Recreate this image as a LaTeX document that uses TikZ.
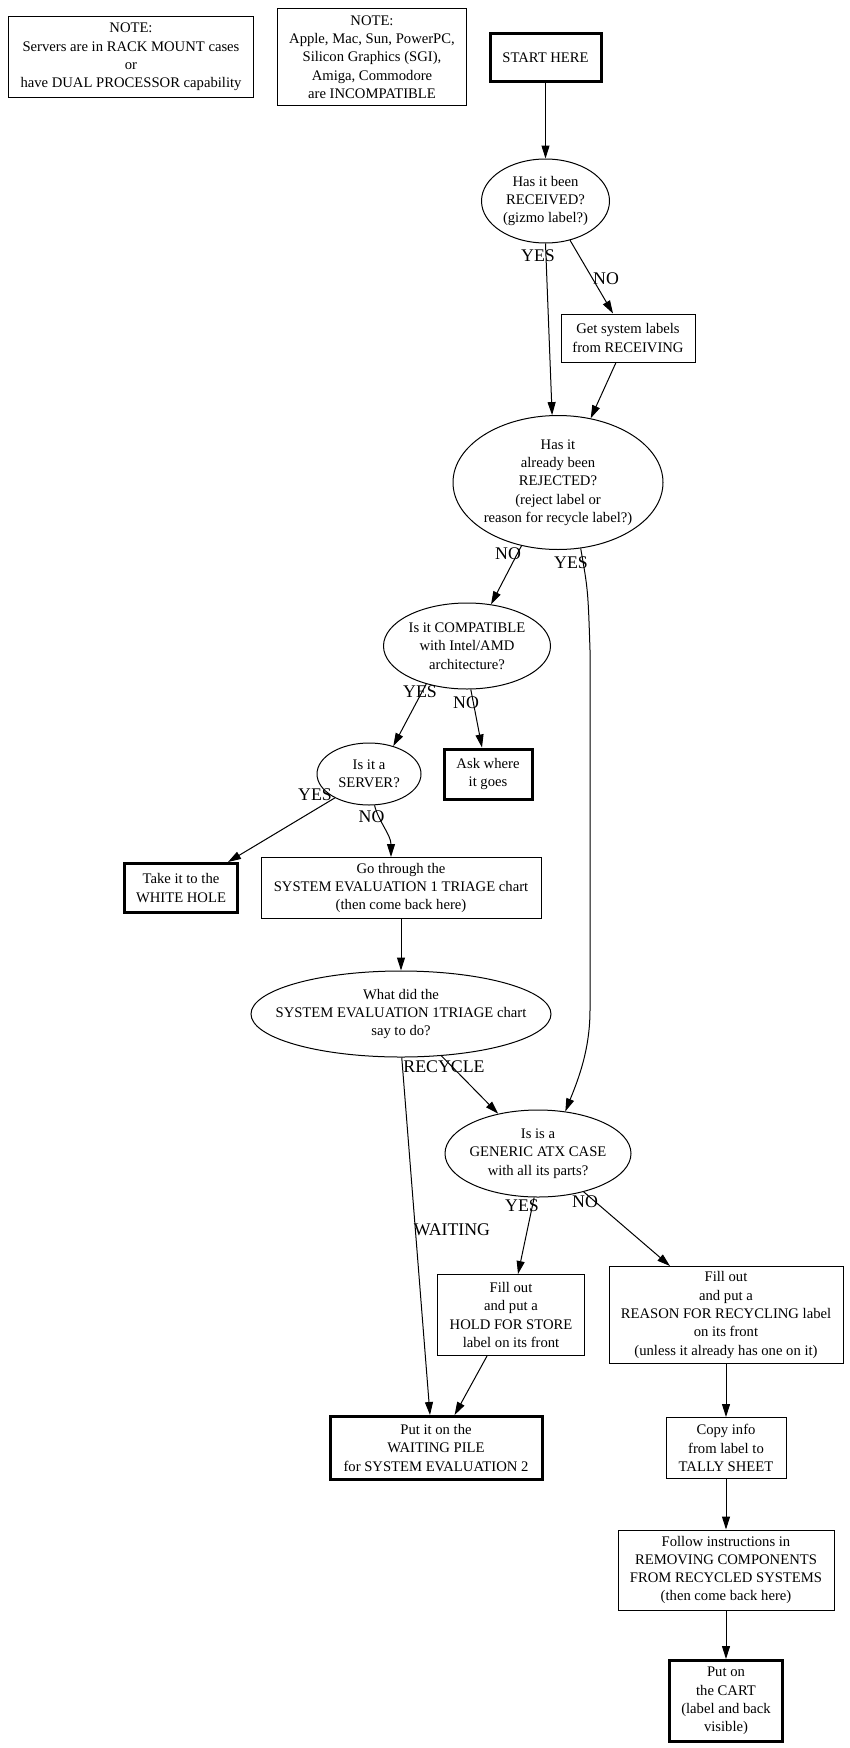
\documentclass[tikz,border=0pt]{standalone}
\usepackage{fontspec}
\setmainfont{Liberation Serif}
\usetikzlibrary{shapes.geometric,arrows.meta}
\newcommand{\myNodeFont}{\fontsize{14.65bp}{18.3bp}\selectfont}
\newcommand{\myLabelFont}{\fontsize{17.8bp}{20bp}\selectfont}
\begin{document}
\begin{tikzpicture}[x=1bp,y=-1bp,
  box/.style={draw,rectangle,line width=1bp,inner sep=0pt,align=center,font=\myNodeFont},
  boldbox/.style={box,line width=3bp},
  oval/.style={draw,ellipse,line width=1bp,inner sep=0pt},
  txt/.style={align=center,font=\myNodeFont,inner sep=0pt},
  elabel/.style={font=\myLabelFont,inner sep=0pt},
  conn/.style={line width=1bp,-{Triangle[length=13bp,width=8bp]}}]
\fill[white] (0,0) rectangle (850,1748);
\useasboundingbox (0,0) rectangle (850,1748);

% notes
\node[box,minimum width=245bp,minimum height=80bp] (note1) at (131,57)
  {NOTE:\\Servers are in RACK MOUNT cases\\or\\have DUAL PROCESSOR capability};
\node[box,minimum width=189bp,minimum height=96bp] (note2) at (372,57)
  {NOTE:\\Apple, Mac, Sun, PowerPC,\\Silicon Graphics (SGI),\\Amiga, Commodore\\are INCOMPATIBLE};

% main flow
\node[boldbox,minimum width=111bp,minimum height=48bp] (start) at (545.5,57.5) {START HERE};
\node[oval,minimum width=128bp,minimum height=84bp,
  label={[txt]center:{Has it been\\RECEIVED?\\(gizmo label?)}}] (received) at (545.5,201) {};
\node[box,minimum width=134bp,minimum height=48bp] (getlabels) at (628,338)
  {Get system labels\\from RECEIVING};
\node[oval,minimum width=210bp,minimum height=134bp,
  label={[txt]center:{Has it\\already been\\REJECTED?\\(reject label or\\reason for recycle label?)}}] (rejected) at (558,482.5) {};
\node[oval,minimum width=167bp,minimum height=86bp,
  label={[txt]center:{Is it COMPATIBLE\\with Intel/AMD\\architecture?}}] (compat) at (467,646) {};
\node[oval,minimum width=104bp,minimum height=62bp,
  label={[txt]center:{Is it a\\SERVER?}}] (server) at (369,774) {};
\node[boldbox,minimum width=88bp,minimum height=50bp] (ask) at (488,774) {Ask where\\it goes};
\node[boldbox,minimum width=113bp,minimum height=49bp] (whitehole) at (181,888) {Take it to the\\WHITE HOLE};
\node[box,minimum width=280bp,minimum height=61bp] (gothrough) at (401,888)
  {Go through the\\SYSTEM EVALUATION 1 TRIAGE chart\\(then come back here)};
\node[oval,minimum width=300bp,minimum height=86bp,
  label={[txt]center:{What did the\\SYSTEM EVALUATION 1TRIAGE chart\\say to do?}}] (what) at (401,1014) {};
\node[oval,minimum width=186bp,minimum height=87bp,
  label={[txt]center:{Is is a\\GENERIC ATX CASE\\with all its parts?}}] (generic) at (538,1153.5) {};
\node[box,minimum width=147bp,minimum height=81bp] (hold) at (511,1315)
  {Fill out\\and put a\\HOLD FOR STORE\\label on its front};
\node[box,minimum width=234bp,minimum height=97bp] (reason) at (726,1315)
  {Fill out\\and put a\\REASON FOR RECYCLING label\\on its front\\(unless it already has one on it)};
\node[boldbox,minimum width=212bp,minimum height=63bp] (pile) at (436,1448)
  {Put it on the\\WAITING PILE\\for SYSTEM EVALUATION 2};
\node[box,minimum width=120bp,minimum height=61bp] (copy) at (726,1448)
  {Copy info\\from label to\\TALLY SHEET};
\node[box,minimum width=216bp,minimum height=80bp] (follow) at (726,1570)
  {Follow instructions in\\REMOVING COMPONENTS\\FROM RECYCLED SYSTEMS\\(then come back here)};
\node[boldbox,minimum width=113bp,minimum height=81bp] (cart) at (726,1701)
  {Put on\\the CART\\(label and back\\visible)};

% connectors
\draw[conn] (start.south) -- (received.north);
\draw[conn] (received.south) -- (rejected.95);
\draw[conn] (received.-58) -- ([xshift=-15bp]getlabels.north);
\draw[conn] ([xshift=-12bp]getlabels.south) -- (rejected.63);
\draw[conn] (rejected.-120) -- (compat.60);
\draw[conn] (rejected.-71) .. controls (588,590) .. (590,650) -- (590,1010)
  .. controls (590,1050) and (578,1080) .. (generic.57);
\draw[conn] (compat.-137) -- (server.49);
\draw[conn] (compat.-85) -- ([xshift=-6bp]ask.north);
\draw[conn] (server.-145) -- ([xshift=47bp]whitehole.north);
\draw[conn] (server.-80) .. controls +(4,16) and +(0,-22) .. ([xshift=-10bp]gothrough.north);
\draw[conn] (gothrough.south) -- (what.north);
\draw[conn] (what.-46) -- (generic.135);
\draw[conn] (what.-89) -- ([xshift=-6bp]pile.north);
\draw[conn] (generic.-95) -- ([xshift=7bp]hold.north);
\draw[conn] (generic.-40) -- ([xshift=-56bp]reason.north);
\draw[conn] ([xshift=-24bp]hold.south) -- ([xshift=18.6bp]pile.north);
\draw[conn] (reason.south) -- (copy.north);
\draw[conn] (copy.south) -- (follow.north);
\draw[conn] (follow.south) -- (cart.north);

% edge labels
\node[elabel] (l1) at (538,256) {YES};
\node[elabel] (l2) at (606,279) {NO};
\node[elabel] (l3) at (508,554) {NO};
\node[elabel] (l4) at (571,563) {YES};
\node[elabel] (l5) at (420,692) {YES};
\node[elabel] (l6) at (466,703) {NO};
\node[elabel] (l7) at (315,795) {YES};
\node[elabel] (l8) at (371.5,817) {NO};
\node[elabel] (l9) at (444,1067) {RECYCLE};
\node[elabel] (l10) at (452,1230) {WAITING};
\node[elabel] (l11) at (522,1206) {YES};
\node[elabel] (l12) at (585,1202) {NO};
\end{tikzpicture}
\end{document}
